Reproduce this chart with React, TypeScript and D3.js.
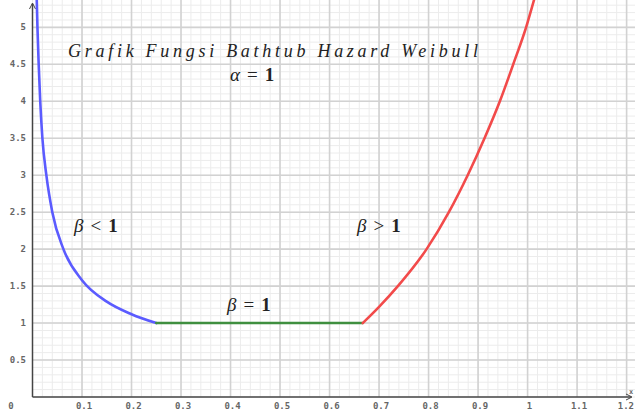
import React, { useEffect, useRef } from "react";
import * as d3 from "d3";

// hazard curve readings (x, h(x))
const betaLessX = [0.0085, 0.01, 0.0125, 0.0156, 0.02, 0.028, 0.04, 0.0625, 0.1, 0.15, 0.2, 0.25];
const betaLessY = [5.4, 5.0, 4.5, 4.0, 3.5, 3.0, 2.5, 2.0, 1.58, 1.29, 1.12, 1.0];

const betaOneX = [0.25, 0.667];
const betaOneY = [1.0, 1.0];

const betaMoreX = [0.667, 0.7, 0.738, 0.796, 0.841, 0.879, 0.913, 0.944, 0.971, 0.997, 1.013];
const betaMoreY = [1.0, 1.22, 1.5, 2.0, 2.5, 3.0, 3.5, 4.0, 4.5, 5.0, 5.37];

const xTickLabels = ["0", "0.1", "0.2", "0.3", "0.4", "0.5", "0.6", "0.7", "0.8", "0.9", "1", "1.1", "1.2"];
const yTickLabels = ["0.5", "1", "1.5", "2", "2.5", "3", "3.5", "4", "4.5", "5"];

const title = "Grafik Fungsi Bathtub Hazard Weibull";

const App = () => {
  const ref = useRef<SVGSVGElement>(null);

  useEffect(() => {
    const width = 635;
    const height = 412;
    const svg = d3.select(ref.current);
    svg.selectAll("*").remove();

    const x = d3.scaleLinear().domain([0, 1.22]).range([32.5, 636.5]);
    const y = d3.scaleLinear().domain([0, 5.37]).range([397, 0]);

    svg.append("rect").attr("width", width).attr("height", height).attr("fill", "white");

    const grid = svg.append("g");
    // minor grid
    const xMinor = d3.range(0, 1.23, 0.02);
    const yMinor = d3.range(0, 5.4, 0.1);
    grid.selectAll(".vx").data(xMinor).enter().append("line")
      .attr("x1", (d) => x(d)).attr("x2", (d) => x(d))
      .attr("y1", y(0)).attr("y2", 0)
      .attr("stroke", "#ececec").attr("stroke-width", 1);
    grid.selectAll(".hy").data(yMinor).enter().append("line")
      .attr("x1", x(0)).attr("x2", width)
      .attr("y1", (d) => y(d)).attr("y2", (d) => y(d))
      .attr("stroke", "#ececec").attr("stroke-width", 1);

    // major grid
    const xMajor = xTickLabels.map((d) => +d);
    const yMajor = yTickLabels.map((d) => +d);
    grid.selectAll(".VX").data(xMajor.slice(1)).enter().append("line")
      .attr("x1", (d) => x(d)).attr("x2", (d) => x(d))
      .attr("y1", y(0)).attr("y2", 0)
      .attr("stroke", "#d2d2d2").attr("stroke-width", 1.6);
    grid.selectAll(".HY").data(yMajor).enter().append("line")
      .attr("x1", x(0)).attr("x2", width)
      .attr("y1", (d) => y(d)).attr("y2", (d) => y(d))
      .attr("stroke", "#d2d2d2").attr("stroke-width", 1.6);

    // axes
    const axis = svg.append("g").attr("stroke", "#444").attr("stroke-width", 1.5).attr("fill", "none");
    axis.append("line").attr("x1", x(0)).attr("x2", x(0)).attr("y1", y(0)).attr("y2", 4);
    axis.append("line").attr("x1", x(0)).attr("x2", 631).attr("y1", y(0)).attr("y2", y(0));
    axis.append("path").attr("d", `M${x(0) - 3},9 L${x(0)},3 L${x(0) + 3},9`).attr("stroke-width", 1);
    axis.append("path").attr("d", `M626,${y(0) - 3} L632,${y(0)} L626,${y(0) + 3}`).attr("stroke-width", 1);

    const labelStyle = (s: any) =>
      s.attr("font-family", "DejaVu Sans Mono")
        .attr("font-size", 9)
        .attr("font-weight", "bold")
        .attr("fill", "#666");

    svg.append("g").selectAll("text").data(xTickLabels).enter().append("text")
      .call(labelStyle)
      .attr("x", (d) => (d === "0" ? 11 : d === "1.2" ? 634 : x(+d) + 2))
      .attr("y", 409)
      .attr("text-anchor", (d) => (d === "1.2" ? "end" : "middle"))
      .text((d) => d);

    svg.append("g").selectAll("text").data(yTickLabels).enter().append("text")
      .call(labelStyle)
      .attr("x", 26)
      .attr("y", (d) => y(+d) + 3)
      .attr("text-anchor", "end")
      .text((d) => d);

    svg.append("text").call(labelStyle).attr("x", 629).attr("y", 394).attr("font-size", 7).text("x");

    // curves
    const line = d3.line<[number, number]>()
      .x((d) => x(d[0]))
      .y((d) => y(d[1]))
      .curve(d3.curveMonotoneX);

    const curves = [
      { xs: betaLessX, ys: betaLessY, color: "#5b5bff" },
      { xs: betaOneX, ys: betaOneY, color: "#3f8f3f" },
      { xs: betaMoreX, ys: betaMoreY, color: "#f24a4a" },
    ];
    const plot = svg.append("g");
    curves.forEach((c) => {
      plot.append("path")
        .datum(c.xs.map((v, i) => [v, c.ys[i]] as [number, number]))
        .attr("d", line)
        .attr("fill", "none")
        .attr("stroke", c.color)
        .attr("stroke-width", 2.6)
        .attr("stroke-linecap", "round");
    });

    // annotations
    const serif = "'Liberation Serif', 'DejaVu Serif', serif";
    svg.append("text")
      .attr("x", 68).attr("y", 57)
      .attr("font-family", serif).attr("font-style", "italic").attr("font-size", 18)
      .attr("textLength", 410).attr("lengthAdjust", "spacing")
      .attr("fill", "#222")
      .text(title);

    const math = (tx: number, ty: number, sym: string, rel: string) => {
      const t = svg.append("text").attr("x", tx).attr("y", ty)
        .attr("font-family", serif).attr("font-size", 19).attr("fill", "#222");
      t.append("tspan").attr("font-style", "italic").text(sym);
      t.append("tspan").attr("dx", 7).text(rel);
      t.append("tspan").attr("dx", 7).attr("font-weight", "bold").text("1");
    };
    math(230, 81, "α", "=");
    math(74, 232, "β", "<");
    math(357, 232, "β", ">");
    math(227, 311, "β", "=");
  }, []);

  return (
    <svg
      ref={ref}
      width={635}
      height={412}
      style={{ position: "absolute", left: 0, top: 0 }}
    ></svg>
  );
};

export default App;
